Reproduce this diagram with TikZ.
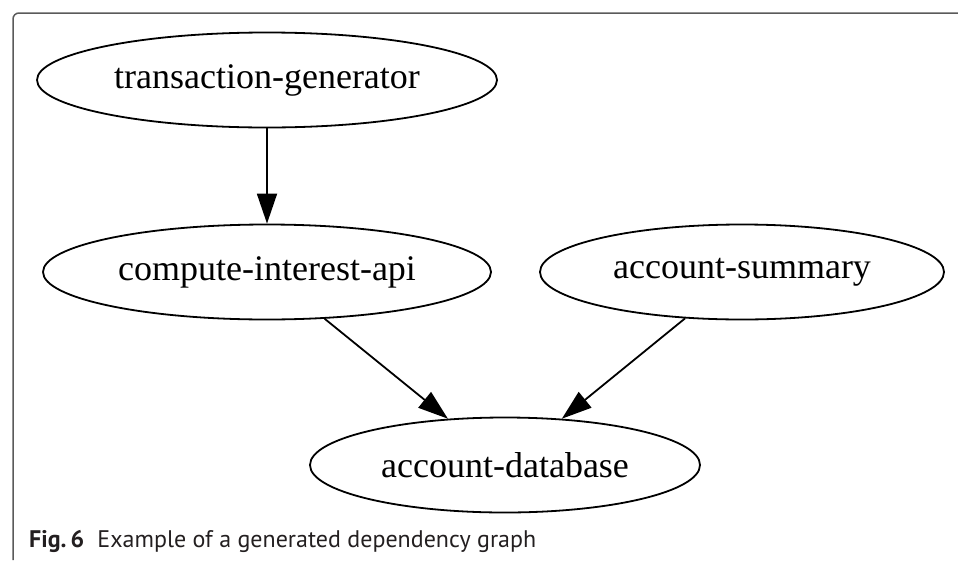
\documentclass[tikz,border=0pt]{standalone}
\usepackage{fontspec}
\setmainfont{Liberation Serif}
\newfontfamily\capfont{PT Sans}
\usetikzlibrary{shapes.geometric,arrows.meta}
\definecolor{framegray}{HTML}{5A5A5A}
\definecolor{captext}{HTML}{231F20}
\tikzset{
  dep/.style={draw, ellipse, line width=1.8pt, inner sep=0pt,
    font=\fontsize{36}{40}\selectfont, minimum height=95pt},
  deparrow/.style={line width=1.8pt, -{Triangle[length=30pt,width=20pt]}},
  framebox/.style={draw=framegray, line width=1.5pt, rounded corners=6pt},
}
\begin{document}
\begin{tikzpicture}[x=1pt,y=-1pt]
\useasboundingbox (0,0) rectangle (958,560);
\draw[framebox] (13,560) -- (13,13) -- (958,13);
\node[dep, minimum width=460pt] (T) at (267,80) {transaction-generator};
\node[dep, minimum width=448pt] (C) at (267,272) {compute-interest-api};
\node[dep, minimum width=404pt] (S) at (742,272) {account-summary};
\node[dep, minimum width=390pt] (D) at (505,465) {account-database};
\draw[deparrow] (T.south) -- (C.north);
\draw[deparrow] (C) -- (D);
\draw[deparrow] (S) -- (D);
\node[anchor=base west, inner sep=0pt, text=captext, font=\capfont\fontsize{24}{28}\selectfont] (cap) at (29,547) {\textbf{Fig.\,6}\hspace{0.55em}Example of a generated dependency graph};
\end{tikzpicture}
\end{document}
